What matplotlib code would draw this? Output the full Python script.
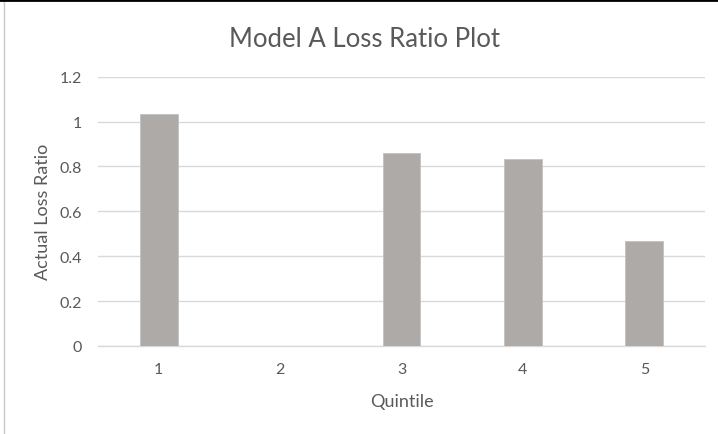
import matplotlib
matplotlib.use("Agg")
import matplotlib.pyplot as plt
from matplotlib.lines import Line2D

# data
quintiles = ['1', '2', '3', '4', '5']
loss_ratio = [1.033, 0.0, 0.86, 0.833, 0.469]
yticks = [0, 0.2, 0.4, 0.6, 0.8, 1, 1.2]
ytick_labels = ['0', '0.2', '0.4', '0.6', '0.8', '1', '1.2']

plt.rcParams['font.family'] = ['Lato', 'DejaVu Sans']
txt = '#595959'
grid = '#D9D9D9'

fig = plt.figure(figsize=(7.18, 4.35), dpi=100)
ax = fig.add_axes([98/718, 1 - 347/435, 607/718, 269.4/435])

x = list(range(len(quintiles)))
ax.bar(x, loss_ratio, width=0.31, color='#ADAAA8', edgecolor='#C4C2C1', linewidth=0.6, zorder=3)

ax.set_xlim(-0.5, len(quintiles) - 0.5)
ax.set_ylim(0, 1.2)
ax.set_yticks(yticks)
ax.set_yticklabels(ytick_labels)
ax.set_xticks(x)
ax.set_xticklabels(quintiles)
ax.yaxis.grid(True, color=grid, linewidth=1.0, zorder=0)
ax.set_axisbelow(True)
for s in ['top', 'right', 'left']:
    ax.spines[s].set_visible(False)
ax.spines['bottom'].set_color(grid)
ax.spines['bottom'].set_linewidth(1.0)
ax.tick_params(axis='both', length=0, labelsize=11.5, labelcolor=txt)
ax.tick_params(axis='y', pad=11.5)
ax.tick_params(axis='x', pad=11.5)

ax.set_ylabel('Actual Loss Ratio', fontsize=13, color=txt,
              ha='center', va='center', rotation_mode='default')
ax.yaxis.set_label_coords(-(98 - 42.5) / 607, 0.5)
ax.set_xlabel('Quintile', fontsize=13, color=txt, va='baseline')
ax.xaxis.set_label_coords(0.5, -(406.7 - 347) / 269.4)

fig.text(364.5/718, 1 - 46.7/435, 'Model A Loss Ratio Plot', fontsize=18.5,
         color=txt, ha='center', va='baseline')

# screenshot frame: thin grey line left, dark line on top
fig.add_artist(Line2D([3.5/718, 3.5/718], [0, 1], color='#C8C8C8', linewidth=1.0))
fig.add_artist(Line2D([0, 1], [1 - 1/435, 1 - 1/435], color='black', linewidth=2.0))

plt.savefig('out.png', dpi=100)
